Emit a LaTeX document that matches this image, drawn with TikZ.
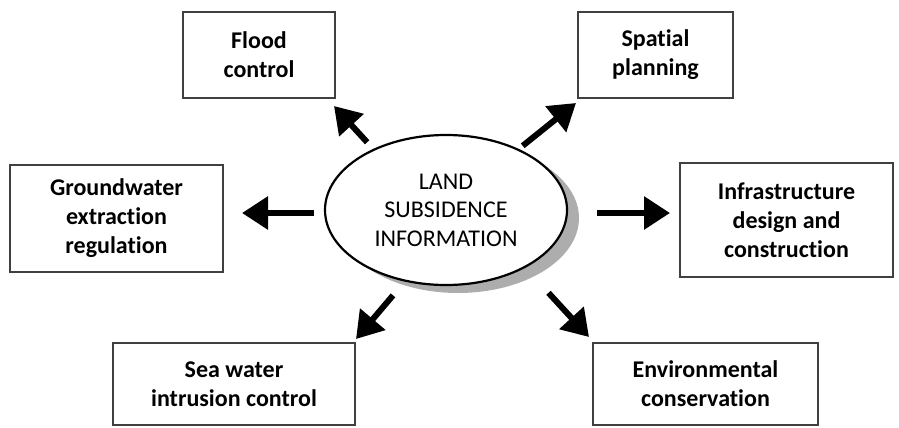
\documentclass[tikz,border=0pt]{standalone}
\usepackage{fontspec}
\setmainfont{Carlito}[Ligatures=NoCommon]
\usepackage{tikz}
\usetikzlibrary{arrows.meta,calc,positioning,shapes.geometric,shadows}

\newcommand{\boxfont}{\fontsize{12}{14.5}\selectfont\bfseries}
\newcommand{\infofont}{\fontsize{12}{14.3}\selectfont}

\begin{document}
\begin{tikzpicture}[x=0.5pt,y=-0.5pt,
    box/.style={draw=black!75,line width=1pt,align=center,font=\boxfont,inner sep=2pt},
    arr/.style={-{Triangle[length=13pt,width=16pt]},line width=3pt}]
  \useasboundingbox (0,0) rectangle (899,428);
%
  \node [ellipse,draw,line width=1.1pt,fill=white,minimum width=121pt,minimum height=75pt,
         align=center,font=\infofont,
         drop shadow={shadow xshift=6pt,shadow yshift=-4pt,fill=black!40,opacity=0.8}]
        (info) at (446,210) {LAND\\SUBSIDENCE\\INFORMATION} ;
%
  \node [box,minimum width=76pt,minimum height=43pt] (flood) at (259,55) {Flood\\control} ;
  \node [box,minimum width=77.5pt,minimum height=43pt] (spatial) at (655.5,55) {Spatial\\planning} ;
  \node [box,minimum width=106.5pt,minimum height=53.5pt] (ground) at (116.5,218.5)
        {Groundwater\\extraction\\regulation} ;
  \node [box,minimum width=106.5pt,minimum height=57pt] (infra) at (786.5,220)
        {Infrastructure\\design and\\construction} ;
  \node [box,minimum width=121pt,minimum height=41pt] (sea) at (234,384)
        {Sea water\\intrusion control} ;
  \node [box,minimum width=112.5pt,minimum height=41pt] (env) at (705.5,384)
        {Environmental\\conservation} ;
%
  \draw [arr,shorten <=4.5pt] (info.140) -- ([xshift=-1pt,yshift=-3.5pt]flood.south east) ;
  \draw [arr,shorten <=2.5pt] (info.40) -- ([xshift=-0.5pt,yshift=-2pt]spatial.south west) ;
%
  \draw [arr,shorten <=5pt,shorten >=9pt] ([yshift=-1.5pt]info.west)
        -- ([yshift=-1.5pt]info.west -| ground.east) ;
  \draw [arr,shorten <=14.5pt,shorten >=4.5pt] ([yshift=-1.5pt]info.east)
        -- ([yshift=-1.5pt]info.east -| infra.west) ;
%
  \draw [arr,shorten <=9pt] (info.240) -- ([yshift=1.5pt]sea.north east) ;
  \draw [arr,shorten <=17pt] (info.324) -- ([xshift=-1.5pt,yshift=2.5pt]env.north west) ;
%
\end{tikzpicture}
\end{document}
